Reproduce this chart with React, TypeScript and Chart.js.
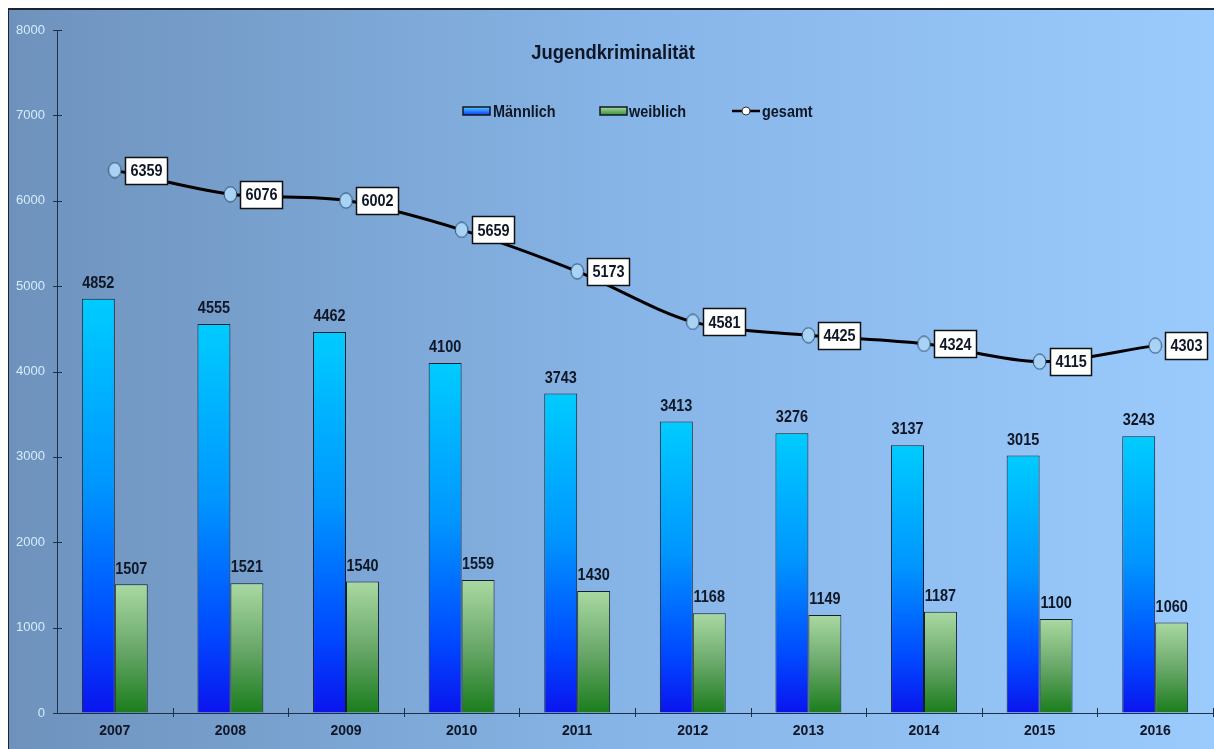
import React, { useEffect, useRef } from 'react';
import { Chart, registerables } from 'chart.js';

Chart.register(...registerables);

const years = ['2007', '2008', '2009', '2010', '2011', '2012', '2013', '2014', '2015', '2016'];
const maennlich = [4852, 4555, 4462, 4100, 3743, 3413, 3276, 3137, 3015, 3243];
const weiblich = [1507, 1521, 1540, 1559, 1430, 1168, 1149, 1187, 1100, 1060];
const gesamt = [6359, 6076, 6002, 5659, 5173, 4581, 4425, 4324, 4115, 4303];
const yTickValues = [0, 1000, 2000, 3000, 4000, 5000, 6000, 7000, 8000];

const TITLE = 'Jugendkriminalität';
const LABELS = ['Männlich', 'weiblich', 'gesamt'];

const FONT = '"Liberation Sans", Arial, sans-serif';
const DARK = '#0f1726';
const NARROW = 0.85;

const BLUE_STOPS: [number, string][] = [
  [0, '#00ccff'],
  [0.45, '#0096ff'],
  [0.8, '#0048ff'],
  [1, '#0a14ee'],
];
const GREEN_STOPS: [number, string][] = [
  [0, '#a9d9a2'],
  [0.5, '#6aa86a'],
  [1, '#1a7d1c'],
];

function barGradient(ctx: any, stops: [number, string][]) {
  const chart = ctx.chart;
  const y = chart.scales && chart.scales.y;
  if (!y || ctx.type !== 'data' || !chart.chartArea) return stops[0][1];
  const top = y.getPixelForValue(ctx.raw);
  const bottom = y.getPixelForValue(0);
  if (!isFinite(top) || !isFinite(bottom) || top === bottom) return stops[0][1];
  const g = chart.ctx.createLinearGradient(0, top, 0, bottom);
  stops.forEach(([o, c]) => g.addColorStop(o, c));
  return g;
}

function makeMarker() {
  const c = document.createElement('canvas');
  c.width = 15;
  c.height = 17;
  const x = c.getContext('2d')!;
  x.beginPath();
  x.ellipse(7.5, 8.5, 6.3, 7.6, 0, 0, Math.PI * 2);
  x.fillStyle = '#a9d3f5';
  x.fill();
  x.lineWidth = 1;
  x.strokeStyle = '#2a4a6a';
  x.stroke();
  return c;
}

function narrowText(ctx: any, txt: string, x: number, y: number, align: string, sx = NARROW) {
  ctx.save();
  ctx.translate(x, y);
  ctx.scale(sx, 1);
  ctx.textAlign = align;
  ctx.fillText(txt, 0, 0);
  ctx.restore();
}

const decorPlugin = {
  id: 'decor',
  beforeDraw(chart: any) {
    const { ctx, width, height } = chart;
    ctx.save();
    const g = ctx.createLinearGradient(0, 0, width, 0);
    g.addColorStop(0, '#6e92bc');
    g.addColorStop(0.5, '#86b4e6');
    g.addColorStop(1, '#9bcafc');
    ctx.fillStyle = g;
    ctx.fillRect(0, 0, width, height);
    ctx.restore();
  },
  afterDatasetsDraw(chart: any) {
    const { ctx } = chart;
    ctx.save();
    ctx.font = `bold 17px ${FONT}`;
    ctx.fillStyle = DARK;
    ctx.textBaseline = 'bottom';
    [0, 1].forEach((di) => {
      const meta = chart.getDatasetMeta(di);
      const vals = chart.data.datasets[di].data;
      meta.data.forEach((bar: any, i: number) => {
        narrowText(ctx, String(vals[i]), bar.x, bar.y - 7, 'center');
      });
    });
    const meta = chart.getDatasetMeta(2);
    const vals = chart.data.datasets[2].data;
    ctx.textBaseline = 'middle';
    meta.data.forEach((pt: any, i: number) => {
      const txt = String(vals[i]);
      const tw = ctx.measureText(txt).width * NARROW;
      const bw = Math.round(tw + 10);
      const bh = 27;
      const bx = Math.round(pt.x + 10) + 0.5;
      const by = Math.round(pt.y - bh / 2) + 0.5;
      ctx.fillStyle = '#ffffff';
      ctx.fillRect(bx, by, bw, bh);
      ctx.lineWidth = 1.5;
      ctx.strokeStyle = '#111111';
      ctx.strokeRect(bx, by, bw, bh);
      ctx.fillStyle = DARK;
      narrowText(ctx, txt, bx + 5, pt.y + 1, 'left');
    });
    ctx.restore();
  },
  afterDraw(chart: any) {
    const { ctx, chartArea, scales, width } = chart;
    ctx.save();
    ctx.fillStyle = '#1a2533';
    ctx.fillRect(0, 0, width, 2);
    ctx.fillRect(0, 0, 1, chart.height);

    ctx.strokeStyle = '#1f2f45';
    ctx.lineWidth = 1;
    const ax = chartArea.left;
    yTickValues.forEach((v) => {
      const y = Math.round(scales.y.getPixelForValue(v)) + 0.5;
      ctx.beginPath();
      ctx.moveTo(ax - 4, y);
      ctx.lineTo(ax + 5, y);
      ctx.stroke();
    });
    const n = years.length;
    const cw = (chartArea.right - chartArea.left) / n;
    const ay = scales.y.getPixelForValue(0);
    for (let i = 1; i <= n; i++) {
      const x = Math.round(chartArea.left + i * cw) + 0.5;
      ctx.beginPath();
      ctx.moveTo(x, ay - 5);
      ctx.lineTo(x, ay + 4);
      ctx.stroke();
    }

    ctx.fillStyle = DARK;
    ctx.textBaseline = 'middle';
    ctx.font = `bold 20px ${FONT}`;
    narrowText(ctx, TITLE, 605, 45, 'center', 0.92);

    ctx.font = `bold 17px ${FONT}`;
    const ly = 103;
    const sw = 27;
    const sh = 8;
    const drawSwatch = (x: number, stops: [number, string][]) => {
      const g = ctx.createLinearGradient(0, ly - sh / 2, 0, ly + sh / 2);
      stops.forEach(([o, c]) => g.addColorStop(o, c));
      ctx.fillStyle = g;
      ctx.fillRect(x, ly - sh / 2, sw, sh);
      ctx.strokeStyle = '#101820';
      ctx.lineWidth = 1.5;
      ctx.strokeRect(x, ly - sh / 2, sw, sh);
    };
    drawSwatch(455, [[0, '#55ccff'], [1, '#0a3aff']]);
    ctx.fillStyle = DARK;
    narrowText(ctx, LABELS[0], 485, ly + 1, 'left');
    drawSwatch(592, [[0, '#a9d9a2'], [1, '#3d8f3d']]);
    ctx.fillStyle = DARK;
    narrowText(ctx, LABELS[1], 621, ly + 1, 'left');
    ctx.strokeStyle = '#000';
    ctx.lineWidth = 2.5;
    ctx.beginPath();
    ctx.moveTo(724, ly);
    ctx.lineTo(752, ly);
    ctx.stroke();
    ctx.beginPath();
    ctx.arc(738, ly, 4, 0, Math.PI * 2);
    ctx.fillStyle = '#ffffff';
    ctx.fill();
    ctx.lineWidth = 1;
    ctx.strokeStyle = '#333';
    ctx.stroke();
    ctx.fillStyle = DARK;
    narrowText(ctx, LABELS[2], 754, ly + 1, 'left');
    ctx.restore();
  },
};

export default function App() {
  const ref = useRef<HTMLCanvasElement>(null);
  useEffect(() => {
    if (!ref.current) return;
    const marker = makeMarker();
    const chart = new Chart(ref.current, {
      type: 'bar',
      data: {
        labels: years,
        datasets: [
          {
            type: 'bar',
            label: LABELS[0],
            data: maennlich,
            backgroundColor: (c: any) => barGradient(c, BLUE_STOPS),
            borderColor: '#14202c',
            borderWidth: 1,
            categoryPercentage: 0.57,
            barPercentage: 1,
            order: 2,
          },
          {
            type: 'bar',
            label: LABELS[1],
            data: weiblich,
            backgroundColor: (c: any) => barGradient(c, GREEN_STOPS),
            borderColor: '#14202c',
            borderWidth: 1,
            categoryPercentage: 0.57,
            barPercentage: 1,
            order: 2,
          },
          {
            type: 'line',
            label: LABELS[2],
            data: gesamt,
            borderColor: '#000000',
            borderWidth: 3,
            tension: 0.3,
            pointStyle: marker,
            pointRadius: 1,
            pointHoverRadius: 1,
            pointBorderWidth: 0,
            fill: false,
            clip: false,
            order: 0,
          } as any,
        ],
      },
      options: {
        responsive: false,
        animation: false,
        events: [],
        layout: { padding: { top: 22, right: 0, left: 0, bottom: 0 } },
        plugins: {
          legend: { display: false },
          title: { display: false },
          tooltip: { enabled: false },
        },
        scales: {
          x: {
            type: 'category',
            offset: true,
            grid: { display: true, drawOnChartArea: false, drawTicks: false },
            border: { display: true, color: '#1f2f45', width: 1 },
            ticks: {
              color: DARK,
              font: { family: FONT, size: 14, weight: 'bold' },
              padding: 10,
              maxRotation: 0,
            },
            afterFit: (s: any) => {
              s.height = 36;
              s.paddingLeft = 0;
              s.paddingRight = 0;
            },
          },
          y: {
            min: 0,
            max: 8000,
            grid: { display: true, drawOnChartArea: false, drawTicks: false },
            border: { display: true, color: '#1f2f45', width: 1 },
            ticks: {
              stepSize: 1000,
              color: '#d4eeff',
              font: { family: FONT, size: 13 },
              padding: 12,
              callback: (v: any) => String(v),
            },
            afterFit: (s: any) => {
              s.width = 49;
              s.paddingTop = 0;
              s.paddingBottom = 0;
            },
          },
        },
      },
      plugins: [decorPlugin],
    } as any);
    return () => chart.destroy();
  }, []);

  return (
    <div style={{ position: 'fixed', left: 8, top: 8, width: 1206, height: 741 }}>
      <canvas ref={ref} width={1206} height={741} style={{ display: 'block' }} />
    </div>
  );
}
